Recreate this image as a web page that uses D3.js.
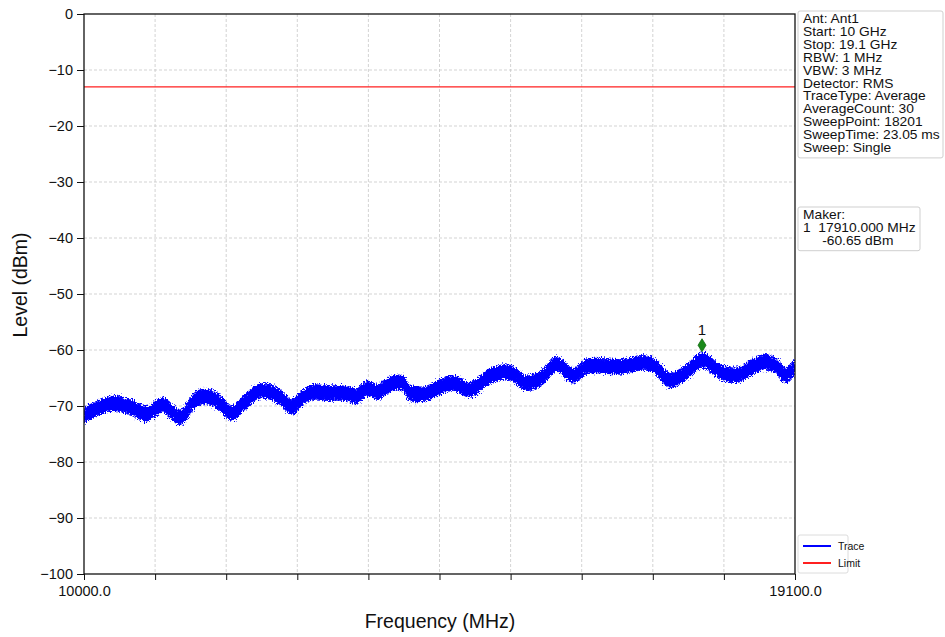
<!DOCTYPE html>
<html>
<head>
<meta charset="utf-8">
<script src="https://cdn.jsdelivr.net/npm/d3@7"></script>
<style>
  html, body { margin: 0; padding: 0; background: #fff; }
  svg { display: block; font-family: "Liberation Sans", Arial, sans-serif; }
</style>
</head>
<body>
<svg id="chart" width="945" height="637"></svg>
<script>
// ---- data ----
const traceFreq = [10000, 10166, 10371, 10589, 10806, 11011, 11229, 11446, 11613, 11741,
  11894, 12086, 12253, 12381, 12509, 12662, 12803, 12931, 13110, 13315,
  13494, 13622, 13750, 13955, 14083, 14173, 14390, 14557, 14723, 14941,
  15158, 15389, 15517, 15645, 15837, 16054, 16259, 16438, 16694, 16899,
  17116, 17283, 17500, 17718, 17910, 18140, 18358, 18563, 18716, 18870,
  18972, 19100];
const traceLevel = [-71.6, -70.5, -69.5, -70.2, -71.4, -69.8, -72.0, -68.6, -68.4, -69.5,
  -71.3, -68.9, -67.3, -67.5, -68.4, -70.2, -68.4, -67.5, -67.7, -67.7,
  -68.2, -66.8, -67.5, -65.9, -65.9, -67.7, -67.7, -66.6, -65.9, -67.1,
  -65.0, -63.9, -64.5, -65.9, -65.2, -62.5, -64.6, -62.9, -62.9, -63.0,
  -62.3, -62.7, -65.4, -63.9, -61.8, -63.9, -64.5, -63.0, -62.1, -63.0,
  -64.5, -62.9];
const limitLevel = [-13, -13];
const limitFreq = [10000, 19100];
const markerFreq = [17910];
const markerLevel = [-60.65];
const markerLabel = ["1"];
const xDomain = [10000, 19100];
const yDomain = [-100, 0];
const yTicks = [0, -10, -20, -30, -40, -50, -60, -70, -80, -90, -100];
const xTickCount = 10;
const xTickLabels = ["10000.0", "19100.0"];
const infoLines = ["Ant: Ant1", "Start: 10 GHz", "Stop: 19.1 GHz", "RBW: 1 MHz", "VBW: 3 MHz",
  "Detector: RMS", "TraceType: Average", "AverageCount: 30", "SweepPoint: 18201",
  "SweepTime: 23.05 ms", "Sweep: Single"];
const markerLines = ["Maker:", "1  17910.000 MHz", "     -60.65 dBm"];
const legendNames = ["Trace", "Limit"];
const legendColors = ["#0000ff", "#ff2020"];

// ---- layout ----
const M = { left: 84, right: 795, top: 14, bottom: 574 };
const noiseHalf = 1.25; // dB half-width of noisy trace band
const FONT = "Liberation Sans, Arial, sans-serif";

const svg = d3.select("#chart");
const defs = svg.append("defs");
const flt = defs.append("filter").attr("id", "jitter")
  .attr("x", "-2%").attr("y", "-20%").attr("width", "104%").attr("height", "140%");
flt.append("feTurbulence").attr("type", "fractalNoise").attr("baseFrequency", "0.9 0.6")
  .attr("numOctaves", 2).attr("seed", 3).attr("result", "n");
flt.append("feDisplacementMap").attr("in", "SourceGraphic").attr("in2", "n")
  .attr("scale", 8).attr("xChannelSelector", "R").attr("yChannelSelector", "G");

const x = d3.scaleLinear().domain(xDomain).range([M.left, M.right]);
const y = d3.scaleLinear().domain(yDomain).range([M.bottom, M.top]);

// grid
const xGridVals = d3.range(xTickCount + 1).map(i => xDomain[0] + i * (xDomain[1] - xDomain[0]) / xTickCount);
svg.append("g").selectAll("line").data(xGridVals.slice(1, -1)).join("line")
  .attr("x1", d => x(d)).attr("x2", d => x(d))
  .attr("y1", M.top).attr("y2", M.bottom)
  .attr("stroke", "#c8c8c8").attr("stroke-width", 0.8).attr("stroke-dasharray", "3,2");
svg.append("g").selectAll("line").data(yTicks.slice(1, -1)).join("line")
  .attr("x1", M.left).attr("x2", M.right)
  .attr("y1", d => y(d)).attr("y2", d => y(d))
  .attr("stroke", "#c8c8c8").attr("stroke-width", 0.8).attr("stroke-dasharray", "3,2");

// limit line
const pts = limitFreq.map((f, i) => [f, limitLevel[i]]);
svg.append("path")
  .attr("d", d3.line().x(d => x(d[0])).y(d => y(d[1]))(pts))
  .attr("stroke", "#ff2020").attr("stroke-width", 1.3).attr("fill", "none");

// trace band
const tr = traceFreq.map((f, i) => ({ f, v: traceLevel[i] }));
svg.append("clipPath").attr("id", "plotclip").append("rect")
  .attr("x", M.left).attr("y", M.top).attr("width", M.right - M.left).attr("height", M.bottom - M.top);
svg.append("g").attr("clip-path", "url(#plotclip)")
  .append("path")
  .attr("d", d3.area().x(d => x(d.f)).y0(d => y(d.v - noiseHalf)).y1(d => y(d.v + noiseHalf))
    .curve(d3.curveCatmullRom.alpha(0.5))(tr))
  .attr("fill", "#0000ff").attr("stroke", "#0000ff").attr("stroke-width", 1.5)
  .attr("filter", "url(#jitter)");

// marker
const mk = markerFreq.map((f, i) => ({ f, v: markerLevel[i], t: markerLabel[i] }));
svg.append("g").selectAll("path").data(mk).join("path")
  .attr("d", "M0,-6.5 L4,0 L0,6.5 L-4,0 Z")
  .attr("transform", d => `translate(${x(d.f)},${y(d.v + 1.5)})`)
  .attr("fill", "#1a8a1a").attr("stroke", "#0f6a0f").attr("stroke-width", 0.8);
svg.append("g").selectAll("text").data(mk).join("text")
  .attr("x", d => x(d.f)).attr("y", d => y(d.v + 3.4))
  .attr("text-anchor", "middle").attr("font-size", 15).attr("fill", "#111")
  .text(d => d.t);

// frame
svg.append("rect").attr("x", M.left).attr("y", M.top)
  .attr("width", M.right - M.left).attr("height", M.bottom - M.top)
  .attr("fill", "none").attr("stroke", "#111").attr("stroke-width", 1.3);

// axes
const yAxis = d3.axisLeft(y).tickValues(yTicks).tickSize(7).tickPadding(4)
  .tickFormat(d => d === 0 ? "0" : "\u2212" + Math.abs(d));
const gy = svg.append("g").attr("transform", `translate(${M.left},0)`).call(yAxis);
gy.select(".domain").remove();
gy.selectAll("text").attr("font-size", 14.5).attr("fill", "#111").style("font-family", FONT);
gy.selectAll("line").attr("stroke", "#111");

const xAxis = d3.axisBottom(x).tickValues(xGridVals).tickSize(6).tickPadding(6)
  .tickFormat((d, i) => i === 0 ? xTickLabels[0] : (i === xGridVals.length - 1 ? xTickLabels[1] : ""));
const gx = svg.append("g").attr("transform", `translate(0,${M.bottom})`).call(xAxis);
gx.select(".domain").remove();
gx.selectAll("text").attr("font-size", 14.5).attr("fill", "#111").style("font-family", FONT);
gx.selectAll("line").attr("stroke", "#111");

// axis titles
svg.append("text").attr("transform", `translate(27,285) rotate(-90)`)
  .attr("text-anchor", "middle").attr("font-size", 19.5).attr("fill", "#111").text("Level (dBm)");
svg.append("text").attr("x", 440).attr("y", 628)
  .attr("text-anchor", "middle").attr("font-size", 19.5).attr("fill", "#111").text("Frequency (MHz)");

// info box
function infoBox(x0, y0, w, lines) {
  const g = svg.append("g");
  g.append("rect").attr("x", x0).attr("y", y0).attr("width", w).attr("height", lines.length * 12.9 + 5)
    .attr("rx", 2).attr("fill", "#fff").attr("stroke", "#cfcfcf").attr("stroke-width", 1);
  g.selectAll("text").data(lines).join("text")
    .attr("transform", (d, i) => `translate(${x0 + 5},${y0 + 12 + i * 12.9}) scale(1.15,1)`)
    .attr("font-size", 12).attr("fill", "#111").style("white-space", "pre")
    .attr("xml:space", "preserve")
    .text(d => d);
}
infoBox(798, 11, 145, infoLines);
infoBox(798, 207, 122, markerLines);

// legend
const lg = svg.append("g");
lg.append("rect").attr("x", 798).attr("y", 535).attr("width", 50).attr("height", 38)
  .attr("rx", 2).attr("fill", "#fff").attr("stroke", "#dcdcdc");
legendNames.forEach((n, i) => {
  const yy = 546 + i * 17;
  lg.append("line").attr("x1", 803).attr("x2", 831).attr("y1", yy).attr("y2", yy)
    .attr("stroke", legendColors[i]).attr("stroke-width", 2);
  lg.append("text").attr("x", 838).attr("y", yy + 4).attr("font-size", 10.5).attr("fill", "#111").text(n);
});
</script>
</body>
</html>
